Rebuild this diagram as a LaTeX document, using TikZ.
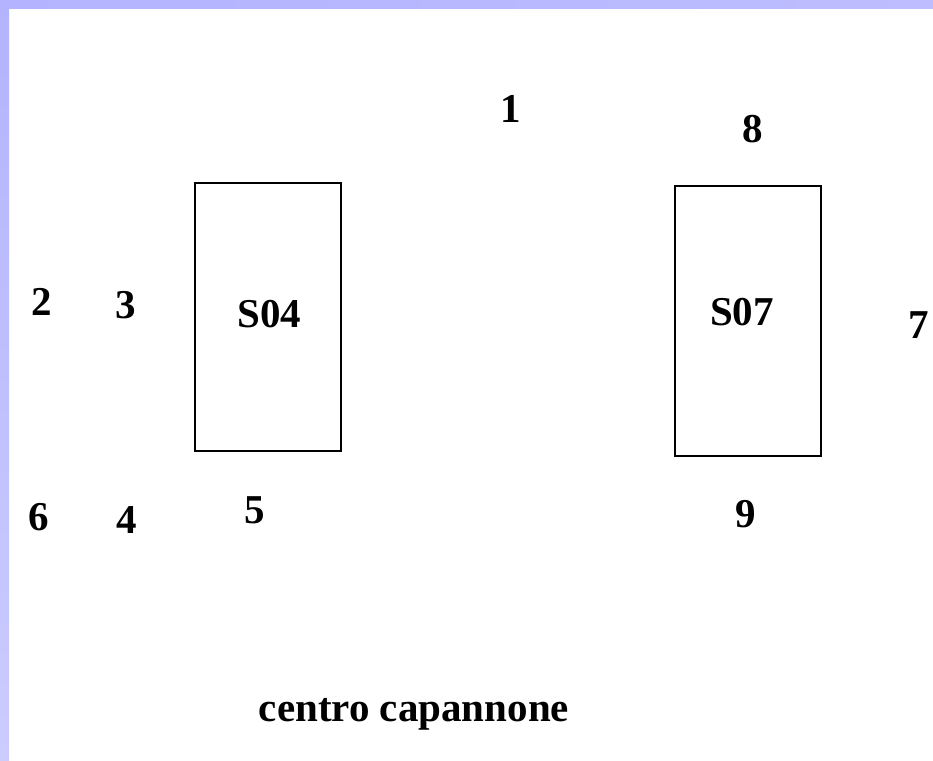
\documentclass[tikz,border=0pt]{standalone}
\usepackage{fontspec}
\setmainfont{Liberation Serif}
\definecolor{bandA}{HTML}{B3B3FF}
\definecolor{bandB}{HTML}{BDBDFF}
\definecolor{bandC}{HTML}{CCCCFF}
\begin{document}
\begin{tikzpicture}[x=1pt,y=-1pt,
  lbl/.style={anchor=base,inner sep=0pt,font=\fontsize{41}{41}\selectfont\bfseries},
  bay/.style={draw=black,line width=2.5pt,rectangle,inner sep=0pt,outer sep=0pt,anchor=north west}]
\useasboundingbox (0,0) rectangle (933,760);
\fill[white] (0,0) rectangle (933,760);
\shade[left color=bandA,right color=bandB] (0,0) rectangle (933,9);
\shade[top color=bandA,bottom color=bandC] (0,0) rectangle (9,760);
% bays
\node[bay,minimum width=146pt,minimum height=268pt] (r04) at (195.2,183.2) {};
\node[bay,minimum width=146pt,minimum height=270pt] (r07) at (675.2,186.2) {};
\node[lbl] (s04) at (269.5,327) {S04};
\node[lbl] (s07) at (742,325) {S07};
% points
\node[lbl] (p1) at (511,122) {1};
\node[lbl] (p2) at (42,315) {2};
\node[lbl] (p3) at (126,318) {3};
\node[lbl] (p4) at (127,533) {4};
\node[lbl] (p5) at (255,523) {5};
\node[lbl] (p6) at (39,530) {6};
\node[lbl] (p7) at (919,338) {7};
\node[lbl] (p8) at (753,142) {8};
\node[lbl] (p9) at (746,527) {9};
\node[lbl] (centre) at (414,721) {centro capannone};
\end{tikzpicture}
\end{document}
